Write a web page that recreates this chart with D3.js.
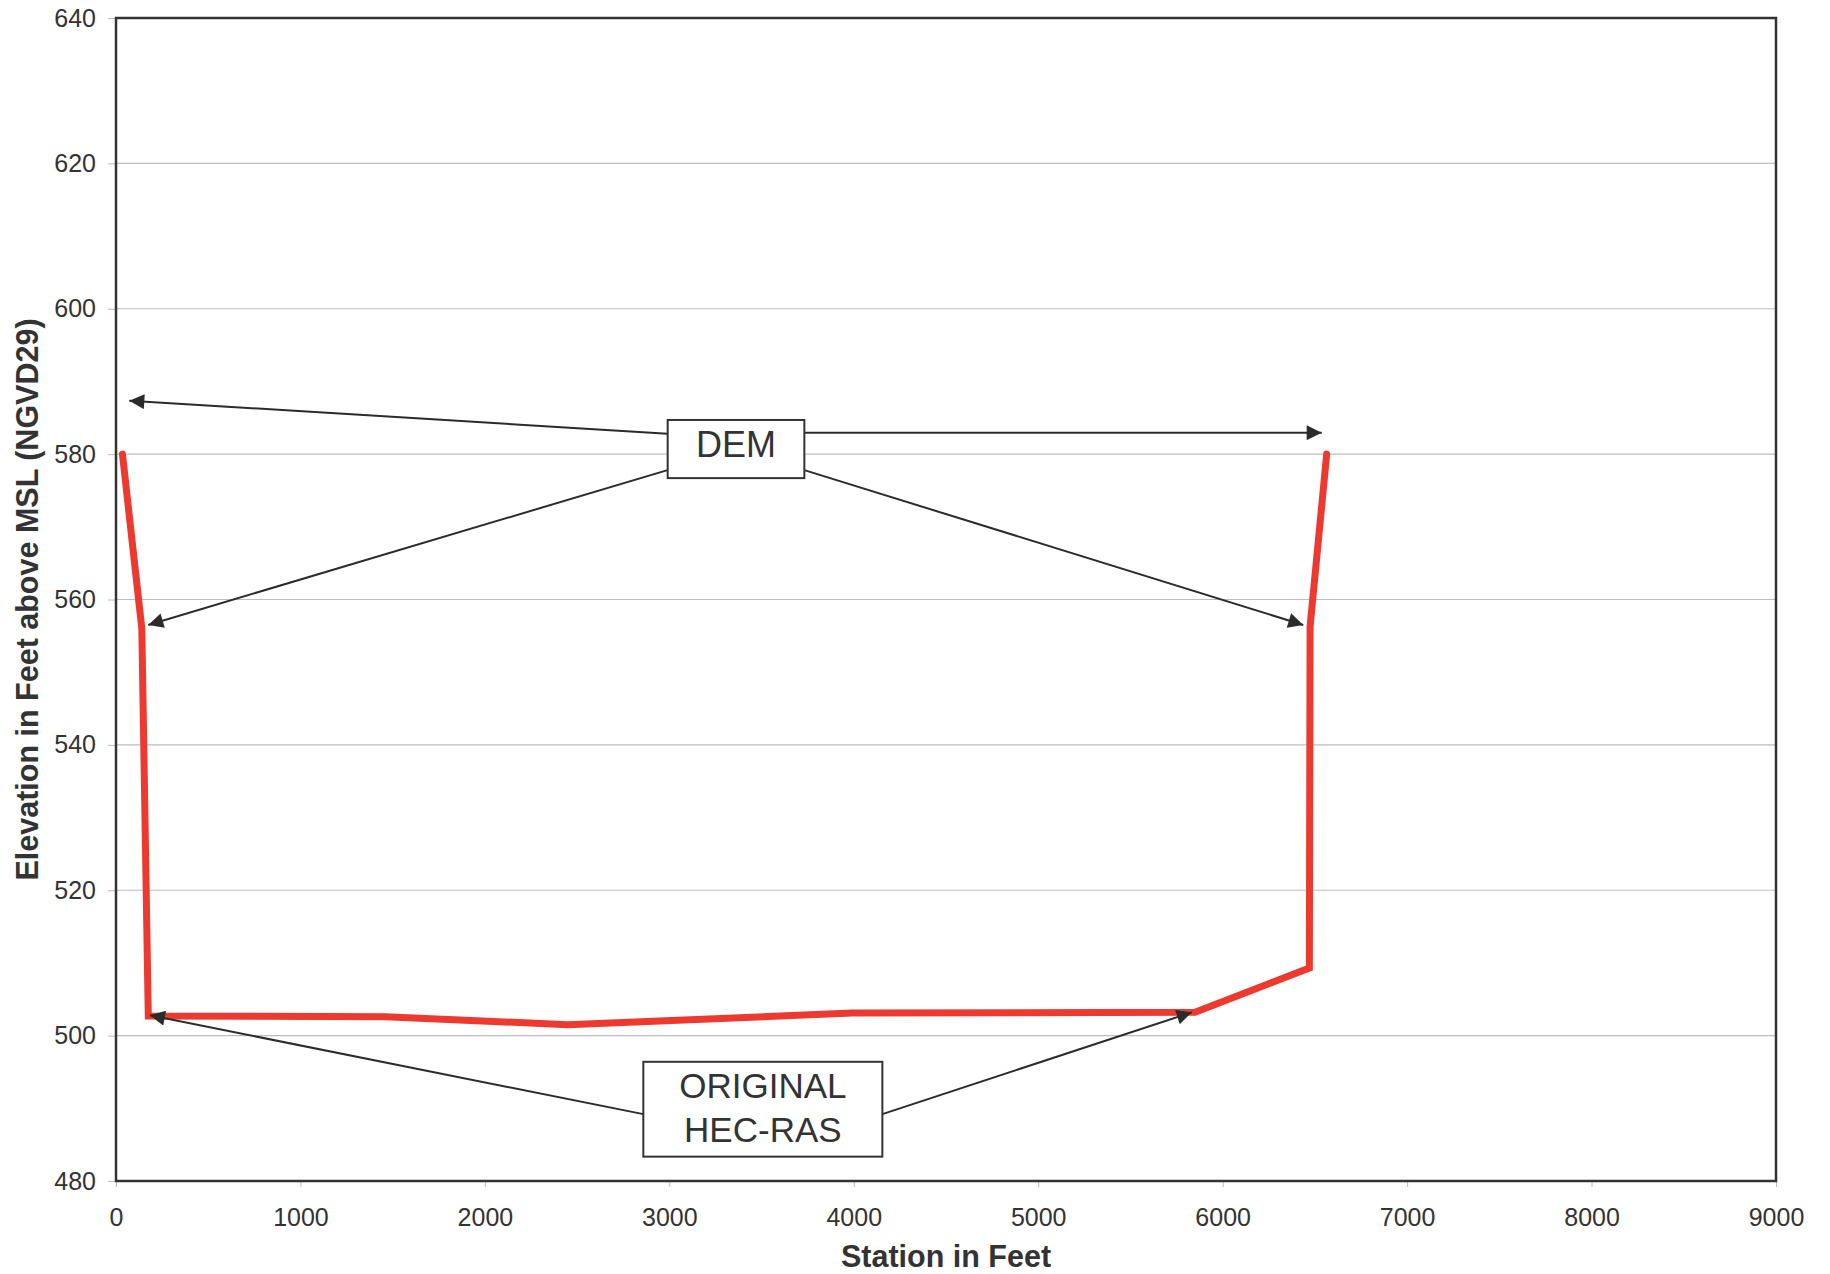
<!DOCTYPE html>
<html><head><meta charset="utf-8">
<script src="https://cdn.jsdelivr.net/npm/d3@7"></script>
<style>
html,body{margin:0;padding:0;background:#fff;}
svg text{font-family:"Liberation Sans",Arial,Helvetica,sans-serif;fill:#333;}
</style></head>
<body>
<svg id="chart" width="1830" height="1274"></svg>
<script>
// ---- data ----
const station = [35, 140, 175, 1460, 2450, 3990, 5850, 6470, 6474, 6564];
const elevation = [580, 556, 502.7, 502.6, 501.5, 503.1, 503.2, 509.3, 556.3, 580];
const xTicks = [0, 1000, 2000, 3000, 4000, 5000, 6000, 7000, 8000, 9000];
const yTicks = [480, 500, 520, 540, 560, 580, 600, 620, 640];
const xTitle = "Station in Feet";
const yTitle = "Elevation in Feet above MSL (NGVD29)";
// annotation boxes (data coords)
const boxLabels = [["DEM"], ["ORIGINAL", "HEC-RAS"]];
const boxX0 = [2991, 2859], boxX1 = [3732, 4155];
const boxY0 = [584.7, 496.4], boxY1 = [576.7, 483.35];
// arrows: start -> tip (data coords)
const arrowX0 = [2990, 2990, 3732, 3732, 2859, 4155];
const arrowY0 = [582.8, 577.8, 582.95, 577.8, 489.2, 489.2];
const arrowX1 = [72, 175, 6537, 6437, 184, 5832];
const arrowY1 = [587.35, 556.5, 582.95, 556.5, 502.8, 503.2];

// ---- layout ----
const L = 116, R = 1776, T = 18, B = 1181;
const svg = d3.select("#chart");
const x = d3.scaleLinear().domain([0, 9000]).range([L, R]);
const y = d3.scaleLinear().domain([480, 640]).range([B, T]);

// gridlines
svg.append("g").selectAll("line").data(yTicks.filter(v => v > 480 && v < 640)).join("line")
  .attr("x1", L).attr("x2", R).attr("y1", d => y(d)).attr("y2", d => y(d))
  .attr("stroke", "#bdbdbd").attr("stroke-width", 1.2);

// axes
const yAxis = svg.append("g").attr("transform", `translate(${L},0)`)
  .call(d3.axisLeft(y).tickValues(yTicks).tickSize(8).tickPadding(12).tickFormat(d3.format("d")));
const xAxis = svg.append("g").attr("transform", `translate(0,${B})`)
  .call(d3.axisBottom(x).tickValues(xTicks).tickSize(6).tickPadding(21).tickFormat(d3.format("d")));
[yAxis, xAxis].forEach(a => {
  a.select(".domain").remove();
  a.selectAll(".tick line").attr("stroke", "#bbb");
  a.selectAll(".tick text").style("font-size", "25px").attr("fill", "#333");
});

// frame
svg.append("rect").attr("x", L).attr("y", T).attr("width", R - L).attr("height", B - T)
  .attr("fill", "none").attr("stroke", "#333").attr("stroke-width", 2.5);

// red line
const pts = station.map((s, i) => [s, elevation[i]]);
svg.append("path").datum(pts)
  .attr("d", d3.line().x(d => x(d[0])).y(d => y(d[1])))
  .attr("fill", "none").attr("stroke", "#ec3a30").attr("stroke-width", 7)
  .attr("stroke-linejoin", "miter").attr("stroke-linecap", "round");

// arrows
svg.append("defs").append("marker").attr("id", "ah")
  .attr("viewBox", "0 0 10 10").attr("refX", 10).attr("refY", 5)
  .attr("markerWidth", 19).attr("markerHeight", 15).attr("markerUnits", "userSpaceOnUse")
  .attr("orient", "auto")
  .append("path").attr("d", "M0,0 L10,5 L0,10 Z").attr("fill", "#2b2b2b");
svg.append("g").selectAll("line").data(arrowX0).join("line")
  .attr("x1", (d, i) => x(arrowX0[i])).attr("y1", (d, i) => y(arrowY0[i]))
  .attr("x2", (d, i) => x(arrowX1[i])).attr("y2", (d, i) => y(arrowY1[i]))
  .attr("stroke", "#2b2b2b").attr("stroke-width", 2).attr("marker-end", "url(#ah)");

// boxes
const bg = svg.append("g").selectAll("g").data(boxLabels).join("g");
bg.append("rect")
  .attr("x", (d, i) => x(boxX0[i])).attr("y", (d, i) => y(boxY0[i]))
  .attr("width", (d, i) => x(boxX1[i]) - x(boxX0[i]))
  .attr("height", (d, i) => y(boxY1[i]) - y(boxY0[i]))
  .attr("fill", "#fff").attr("stroke", "#333").attr("stroke-width", 2);
bg.each(function(lines, i) {
  const cx = (x(boxX0[i]) + x(boxX1[i])) / 2;
  const cy = (y(boxY0[i]) + y(boxY1[i])) / 2 - (lines.length === 1 ? 5 : 2);
  const fs = lines.length === 1 ? 36 : 35;
  const lh = 44;
  lines.forEach((t, k) => {
    d3.select(this).append("text")
      .attr("x", cx).attr("y", cy + (k - (lines.length - 1) / 2) * lh)
      .attr("text-anchor", "middle").attr("dominant-baseline", "central")
      .style("font-size", fs + "px").text(t);
  });
});

// axis titles
svg.append("text").attr("x", (L + R) / 2).attr("y", 1267)
  .attr("text-anchor", "middle").style("font-size", "30.5px").style("font-weight", "bold")
  .text(xTitle);
svg.append("text").attr("transform", `translate(38,${(T + B) / 2}) rotate(-90)`)
  .attr("text-anchor", "middle").style("font-size", "30.5px").style("font-weight", "bold")
  .text(yTitle);
</script>
</body></html>
